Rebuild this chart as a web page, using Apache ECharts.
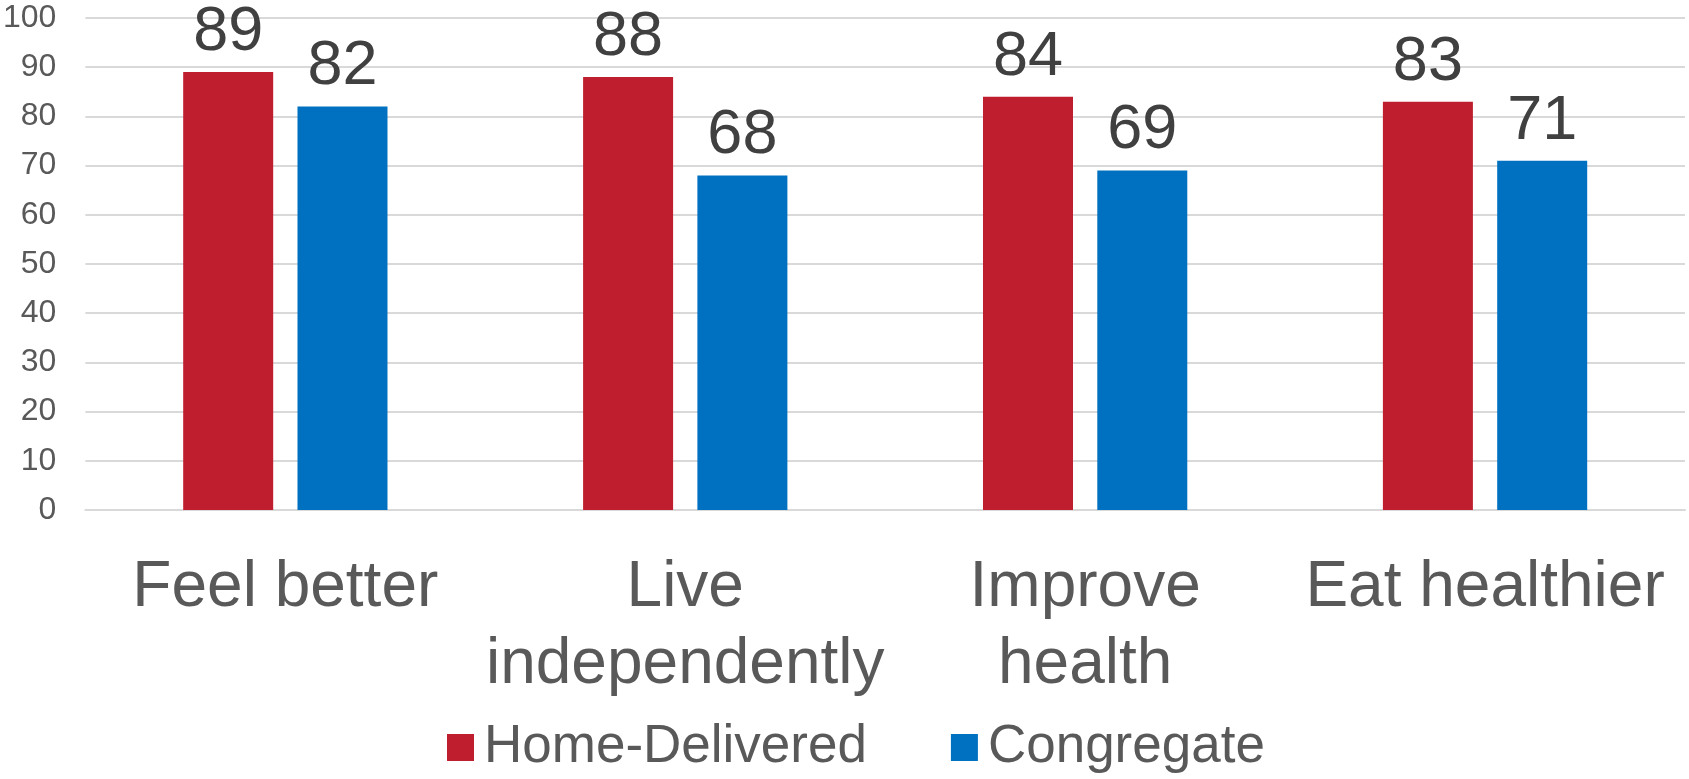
<!DOCTYPE html>
<html>
<head>
<meta charset="utf-8">
<title>Meal program outcomes</title>
<script src="https://cdn.jsdelivr.net/npm/echarts@6/dist/echarts.min.js"></script>
<style>
  html, body { margin: 0; padding: 0; background: #ffffff; }
  #chart { width: 1689px; height: 779px; }
</style>
</head>
<body>
<div id="chart"></div>
<script>
// Outcome categories along the x axis
const categories = ['Feel better', 'Live\nindependently', 'Improve\nhealth', 'Eat healthier'];
// Percent of participants reporting each outcome
const homeDelivered = [89, 88, 84, 83];
const congregate = [82, 68, 69, 71];
// Value axis range
const yMin = 0;
const yMax = 100;
const yStep = 10;

const FONT = '"Liberation Sans", Arial, Helvetica, sans-serif';

const chart = echarts.init(document.getElementById('chart'), null, { renderer: 'canvas' });

const valueLabel = {
  show: true,
  position: 'top',
  distance: 8,
  fontFamily: FONT,
  fontSize: 63,
  color: '#404040'
};

chart.setOption({
  animation: false,
  backgroundColor: '#ffffff',
  textStyle: { fontFamily: FONT },
  grid: { left: 84, right: 4, top: 18, bottom: 269, containLabel: false },
  legend: {
    bottom: 0,
    left: 442,
    itemWidth: 27,
    itemHeight: 27,
    itemGap: 84,
    icon: 'rect',
    textStyle: { fontFamily: FONT, fontSize: 53, color: '#595959', padding: [0, 0, 0, 5] },
    data: ['Home-Delivered', 'Congregate']
  },
  xAxis: {
    type: 'category',
    data: categories,
    axisLine: { show: true, lineStyle: { color: '#d9d9d9', width: 2 } },
    axisTick: { show: false },
    axisLabel: {
      fontFamily: FONT,
      fontSize: 64,
      lineHeight: 77,
      color: '#595959',
      margin: 40,
      interval: 0
    }
  },
  yAxis: {
    type: 'value',
    min: yMin,
    max: yMax,
    interval: yStep,
    axisLine: { show: false },
    axisTick: { show: false },
    splitLine: { lineStyle: { color: '#d9d9d9', width: 2 } },
    axisLabel: { fontFamily: FONT, fontSize: 32, color: '#595959', margin: 29 }
  },
  series: [
    {
      name: 'Home-Delivered',
      type: 'bar',
      data: homeDelivered,
      barWidth: 90,
      barGap: '27%',
      itemStyle: { color: '#be1e2d' },
      label: valueLabel
    },
    {
      name: 'Congregate',
      type: 'bar',
      data: congregate,
      barWidth: 90,
      barGap: '27%',
      itemStyle: { color: '#0070c0' },
      label: valueLabel
    }
  ]
});
</script>
</body>
</html>
